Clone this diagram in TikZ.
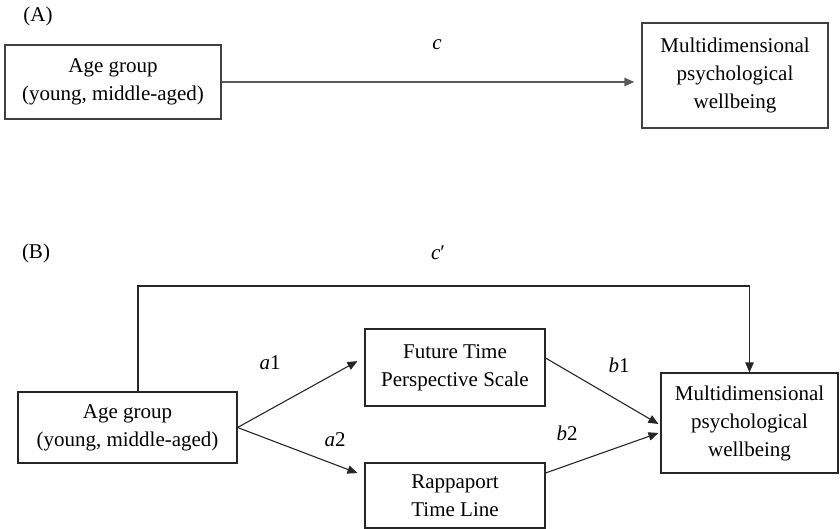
\documentclass[tikz,border=0pt]{standalone}
\usepackage{fontspec}
\setmainfont{Liberation Serif}
\usetikzlibrary{arrows.meta}
\begin{document}
\begin{tikzpicture}[x=0.5pt,y=-0.5pt,
  every node/.style={font=\fontsize{10.5}{14}\selectfont},
  boxa/.style={draw=black!75,line width=0.7pt,align=center,inner sep=0pt},
  boxb/.style={draw=black!85,line width=0.55pt,align=center,inner sep=0pt},
  arra/.style={draw=black!65,line width=0.9pt,-{Triangle[length=5pt,width=4.2pt]}},
  arrb/.style={draw=black!85,line width=0.55pt,-{Triangle[length=5pt,width=4.2pt]}},
  lab/.style={inner sep=0pt}]
\useasboundingbox (0,0) rectangle (840,529);
% Panel A
\node[lab] (labA) at (38,16) {(A)};
\node[boxa,minimum width=108pt,minimum height=37pt] (ageA) at (113,82) {Age group\\(young, middle-aged)};
\node[boxa,minimum width=93pt,minimum height=52.5pt] (mpwA) at (735,75.5) {Multidimensional\\psychological\\wellbeing};
\draw[arra] (ageA.east) -- ([xshift=-3.5pt]mpwA.west |- ageA.east);
\node[lab] (lc) at (437,45) {\textit{c}};
% Panel B
\node[lab] (labB) at (36,253) {(B)};
\node[boxb,minimum width=109.5pt,minimum height=35.5pt] (ageB) at (127.5,427.5) {Age group\\(young, middle-aged)};
\node[boxb,minimum width=90pt,minimum height=38.5pt] (fut) at (455,367.5) {Future Time\\Perspective Scale};
\node[boxb,minimum width=90pt,minimum height=32.5pt] (rap) at (455,495.5) {Rappaport\\Time Line};
\node[boxb,minimum width=88.5pt,minimum height=50pt] (mpwB) at (749.5,423) {Multidimensional\\psychological\\wellbeing};
\coordinate (ctop) at (440,286);
\draw[arrb] ([xshift=5.25pt]ageB.north) |- (ctop) -| (mpwB.north);
\draw[arrb] (ageB.east) -- ([xshift=-3.5pt,yshift=3.2pt]fut.west);
\draw[arrb] (ageB.east) -- ([xshift=-3.5pt,yshift=11.2pt]rap.west);
\draw[arrb] ([yshift=4.75pt]fut.east) -- ([xshift=-1pt,yshift=-0.5pt]mpwB.west);
\draw[arrb] ([yshift=11.25pt]rap.east) -- ([xshift=-1pt,yshift=-5pt]mpwB.west);
\node[lab] (lcp) at (438,253) {\textit{c}′};
\node[lab] (la1) at (270,363) {\textit{a}1};
\node[lab] (la2) at (335,440) {\textit{a}2};
\node[lab] (lb1) at (619,365) {\textit{b}1};
\node[lab] (lb2) at (567,433) {\textit{b}2};
\end{tikzpicture}
\end{document}
